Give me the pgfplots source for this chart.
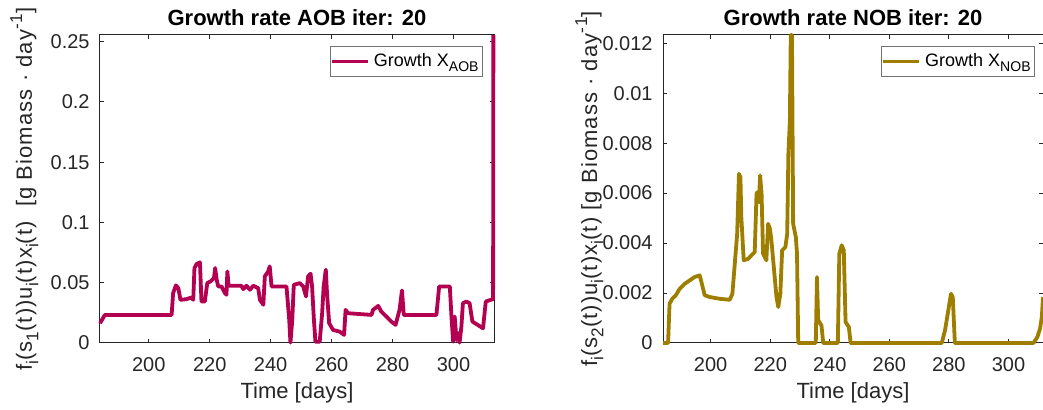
\documentclass[border=0pt]{standalone}
\usepackage{fontspec}
\setmainfont{Liberation Sans}
\usepackage{graphicx}
\usepackage{pgfplots}
\pgfplotsset{compat=1.18}
\definecolor{aobred}{RGB}{180,0,80}
\definecolor{nobgold}{RGB}{158,126,0}
\definecolor{axgray}{RGB}{38,38,38}
\newcommand{\sub}[1]{\raisebox{-0.55ex}{\scalebox{0.78}{#1}}}
\newcommand{\sups}[1]{\raisebox{0.85ex}{\scalebox{0.78}{#1}}}

\pgfplotsset{
  mlstyle/.style={
    scale only axis, clip=false,
    axis line style={axgray, line width=0.5pt},
    tick style={axgray, line width=0.5pt},
    tick align=inside, major tick length=2pt,
    xtick={200,220,240,260,280,300},
    ticklabel style={font=\fontsize{10}{12}\selectfont, text=axgray},
    /pgf/number format/assume math mode=true,
    /pgf/number format/fixed,
    /pgf/number format/precision=3,
    scaled y ticks=false,
    xticklabel style={anchor=base, yshift=-14.5pt},
    yticklabel style={anchor=east, inner sep=0pt, xshift=-5pt},
    title style={at={(0.5,1)}, anchor=base, yshift=-1.5pt,
      font=\bfseries\fontsize{11}{13}\selectfont},
    xlabel style={at={(axis description cs:0.5,0)}, anchor=base, yshift=-28pt,
      font=\fontsize{11}{13}\selectfont, text=axgray},
    ylabel style={anchor=base, text=axgray,
      font=\fontsize{11}{13}\selectfont\addfontfeature{LetterSpace=5}},
    legend style={draw=black!55, line width=0.4pt, fill=white, anchor=north east,
      font=\fontsize{9}{11}\selectfont, inner xsep=0pt, inner ysep=1.5pt},
    legend image code/.code={\draw[#1] (0pt,0pt) -- (18pt,0pt);},
  }
}

\begin{document}
\begin{tikzpicture}
\begin{axis}[mlstyle,
  at={(50pt,33.5pt)}, anchor=south west, width=197pt, height=154pt,
  xmin=184, xmax=313.3, ymin=0, ymax=0.2556,
  ytick={0,0.05,0.1,0.15,0.2,0.25},
  title={Growth rate AOB iter: 20},
  xlabel={Time [days]},
  ylabel={f\sub{i}(s\sub{1}(t))u\sub{i}(t)x\sub{i}(t)\ \ [g Biomass · day\sups{-1}]},
  ylabel style={at={(axis description cs:-0.1726,0.5)}},
  legend style={at={(0.972,0.964)}}]
\addplot[aobred, line width=1.9pt, line join=round] coordinates {
 (184.0,0.0164) (185.6,0.0233) (207.5,0.0233) (208.0,0.0414) (208.9,0.0478)
 (209.7,0.0456) (210.4,0.0358) (212.4,0.0364) (214.1,0.0378) (214.6,0.0358)
 (215.0,0.0622) (215.7,0.0656) (216.8,0.0669) (217.3,0.0344) (218.4,0.0344)
 (219.2,0.0497) (220.3,0.0511) (221.4,0.0539) (221.8,0.0622) (222.3,0.0525)
 (222.8,0.0469) (223.9,0.0469) (225.0,0.0414) (225.5,0.0400) (225.8,0.0594)
 (226.2,0.0475) (230.4,0.0475) (231.0,0.0447) (232.1,0.0475) (233.2,0.0442)
 (234.3,0.0475) (235.9,0.0456) (236.5,0.0358) (237.6,0.0317) (238.1,0.0553)
 (239.2,0.0594) (239.7,0.0636) (240.3,0.0469) (245.2,0.0469) (246.1,0.0192)
 (246.5,0.0003) (247.1,0.0192) (247.6,0.0483) (249.6,0.0497) (250.7,0.0469)
 (251.6,0.0386) (252.3,0.0553) (253.1,0.0575) (253.6,0.0469) (254.2,0.0192)
 (254.7,0.0011) (256.1,0.0011) (256.9,0.0247) (257.4,0.0469) (258.1,0.0608)
 (258.5,0.0414) (259.2,0.0164) (260.5,0.0108) (262.7,0.0094) (264.1,0.0067)
 (264.6,0.0275) (265.4,0.0247) (273.1,0.0233) (273.6,0.0275) (275.3,0.0308)
 (276.3,0.0261) (278.0,0.0219) (279.6,0.0178) (281.0,0.0150) (282.3,0.0275)
 (283.1,0.0436) (283.7,0.0233) (294.4,0.0233) (295.3,0.0469) (298.8,0.0469)
 (299.4,0.0192) (299.9,0.0011) (300.4,0.0219) (301.0,0.0025) (301.5,0.0081)
 (302.0,0.0003) (302.6,0.0136) (303.1,0.0330) (304.2,0.0344) (305.3,0.0330)
 (306.2,0.0178) (309.7,0.0122) (310.6,0.0344) (313.0,0.0364) (313.1,0.2556)
};
\addlegendentry{Growth X\sub{AOB}}
\end{axis}

\begin{axis}[mlstyle,
  at={(331.5pt,33.5pt)}, anchor=south west, width=190pt, height=154pt,
  xmin=184, xmax=311.6, ymin=0, ymax=0.01233,
  ytick={0,0.002,0.004,0.006,0.008,0.01,0.012},
  title={Growth rate NOB iter: 20},
  xlabel={Time [days]},
  ylabel={f\sub{i}(s\sub{2}(t))u\sub{i}(t)x\sub{i}(t) [g Biomass · day\sups{-1}]},
  ylabel style={at={(axis description cs:-0.1737,0.5)}},
  legend style={at={(0.979,0.964)}}]
\addplot[nobgold, line width=1.9pt, line join=round] coordinates {
 (184.0,0) (185.7,0) (186.2,0.00157) (187.1,0.00177) (188.3,0.00191)
 (189.6,0.00217) (191.3,0.00237) (193.0,0.00251) (194.6,0.00264) (196.3,0.00271)
 (196.9,0.00244) (198.0,0.00191) (199.7,0.00184) (203.0,0.00177) (206.4,0.00173)
 (207.3,0.00197) (208.1,0.00317) (208.9,0.00437) (209.5,0.00677) (210.0,0.00664)
 (210.3,0.00504) (211.1,0.00331) (212.6,0.00337) (213.7,0.00351) (214.8,0.00364)
 (215.4,0.00597) (215.7,0.00604) (216.2,0.00564) (216.6,0.00671) (217.1,0.00597)
 (217.6,0.00357) (218.7,0.00331) (219.3,0.00477) (219.9,0.00457) (220.4,0.00411)
 (221.0,0.00331) (222.1,0.00184) (222.7,0.00144) (223.4,0.00197) (224.0,0.00371)
 (225.1,0.00384) (225.7,0.00437) (226.1,0.00757) (226.6,0.00890) (226.9,0.01233)
 (227.3,0.01233) (227.7,0.00477) (228.6,0.00424) (229.0,0.00357) (229.4,0)
 (235.3,0) (235.7,0.00264) (236.1,0.00091) (237.2,0.00071) (237.8,0)
 (242.7,0) (243.2,0.00357) (244.0,0.00391) (244.7,0.00371) (245.3,0.00084)
 (246.4,0.00064) (247.0,0) (277.6,0) (278.7,0.00051) (279.8,0.00131)
 (280.7,0.00197) (281.3,0.00184) (282.0,0) (308.4,0) (309.7,0.00024)
 (310.6,0.00057) (311.2,0.00104) (311.6,0.00184)
};
\addlegendentry{Growth X\sub{NOB}}
\end{axis}
\pgfresetboundingbox
\useasboundingbox (0,0) rectangle (521.5pt,205pt);
\end{tikzpicture}
\end{document}
